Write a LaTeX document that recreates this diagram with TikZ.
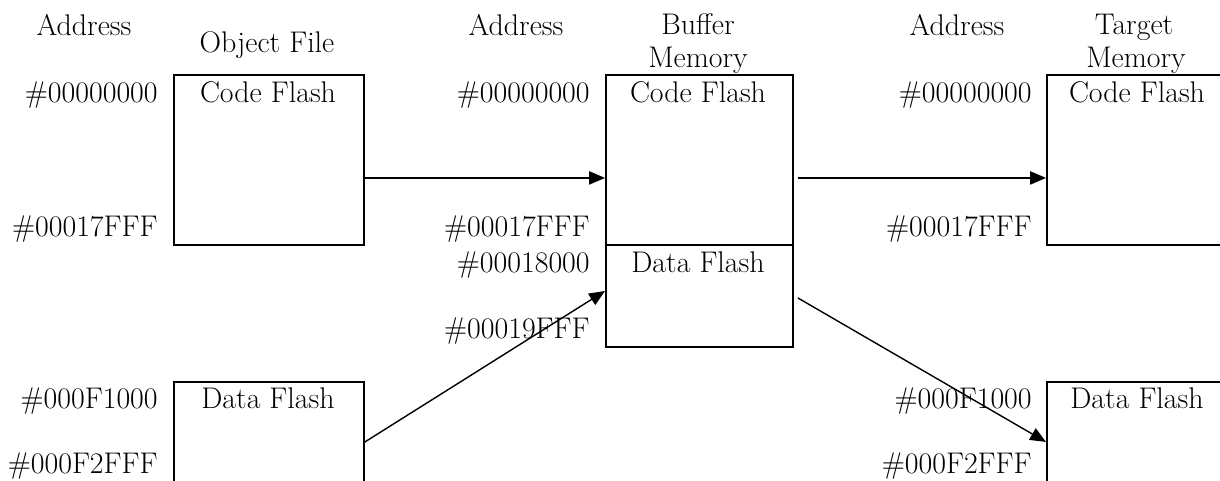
\documentclass[tikz,border=0pt]{standalone}
\usetikzlibrary{positioning,arrows.meta}
\tikzset{>={Triangle[length=9pt,width=7.5pt]}}
\tikzset{
    every node/.style={font=\fontsize{17}{20}\selectfont},
    mem/.style={draw,rectangle,line width=1.1pt,anchor=north west,inner sep=0pt,minimum height=3.4cm},
    addr/.style={anchor=base east,inner sep=0pt},
    heading/.style={anchor=base,inner sep=0pt},
    transfer/.style={->,line width=0.8pt},
}
\begin{document}
\begin{tikzpicture}[x=0.02cm,y=-0.02cm]
		\clip (0,0) rectangle (1220,480);
		% memory blocks
		\node[mem,minimum width=3.8cm] (ocode) at (173,74) {};
		\node[mem,minimum width=3.8cm,minimum height=2.4cm] (odata) at (173,381) {};
		\node[mem,minimum width=3.74cm] (bcode) at (605,74) {};
		\node[mem,minimum width=3.74cm,minimum height=2.04cm] (bdata) at (605,244) {};
		\node[mem,minimum width=4cm] (tcode) at (1046,74) {};
		\node[mem,minimum width=4cm,minimum height=2.4cm] (tdata) at (1046,381) {};

		% headings
		\node[heading] (oaddr) at (84,35) {Address};
		\node[heading] (ofile) at (267,52) {Object File};
		\node[heading] (baddr) at (516,35) {Address};
		\node[heading] (bbuf) at (698,34) {Buffer};
		\node[heading] (bmem) at (698,67) {Memory};
		\node[heading] (taddr) at (957,35) {Address};
		\node[heading] (ttgt) at (1134,34) {Target};
		\node[heading] (tmem) at (1136,67) {Memory};

		% block names
		\node[heading] (ocodet) at (268,102) {Code Flash};
		\node[heading] (odatat) at (268,408) {Data Flash};
		\node[heading] (bcodet) at (698,102) {Code Flash};
		\node[heading] (bdatat) at (698,272) {Data Flash};
		\node[heading] (tcodet) at (1137,102) {Code Flash};
		\node[heading] (tdatat) at (1137,408) {Data Flash};

		% addresses
		\node[addr] (oa1) at (158,102) {\#00000000};
		\node[addr] (oa2) at (158,236) {\#00017FFF};
		\node[addr] (oa3) at (158,408) {\#000F1000};
		\node[addr] (oa4) at (158,473) {\#000F2FFF};
		\node[addr] (ba1) at (590,102) {\#00000000};
		\node[addr] (ba2) at (590,236) {\#00017FFF};
		\node[addr] (ba3) at (590,272) {\#00018000};
		\node[addr] (ba4) at (590,338) {\#00019FFF};
		\node[addr] (ta1) at (1032,102) {\#00000000};
		\node[addr] (ta2) at (1032,236) {\#00017FFF};
		\node[addr] (ta3) at (1032,408) {\#000F1000};
		\node[addr] (ta4) at (1032,473) {\#000F2FFF};

		% transfers
		\draw[transfer] ([yshift=-0.36cm]ocode.east) -- ([yshift=-0.36cm]bcode.west);
		\draw[transfer] ([shift={(0.08cm,-0.36cm)}]bcode.east) -- ([yshift=-0.36cm]tcode.west);
		\draw[transfer] (odata.east) -- ([yshift=0.1cm]bdata.west);
		\draw[transfer] ([shift={(0.08cm,-0.04cm)}]bdata.east) -- (tdata.west);
	\end{tikzpicture}
\end{document}
